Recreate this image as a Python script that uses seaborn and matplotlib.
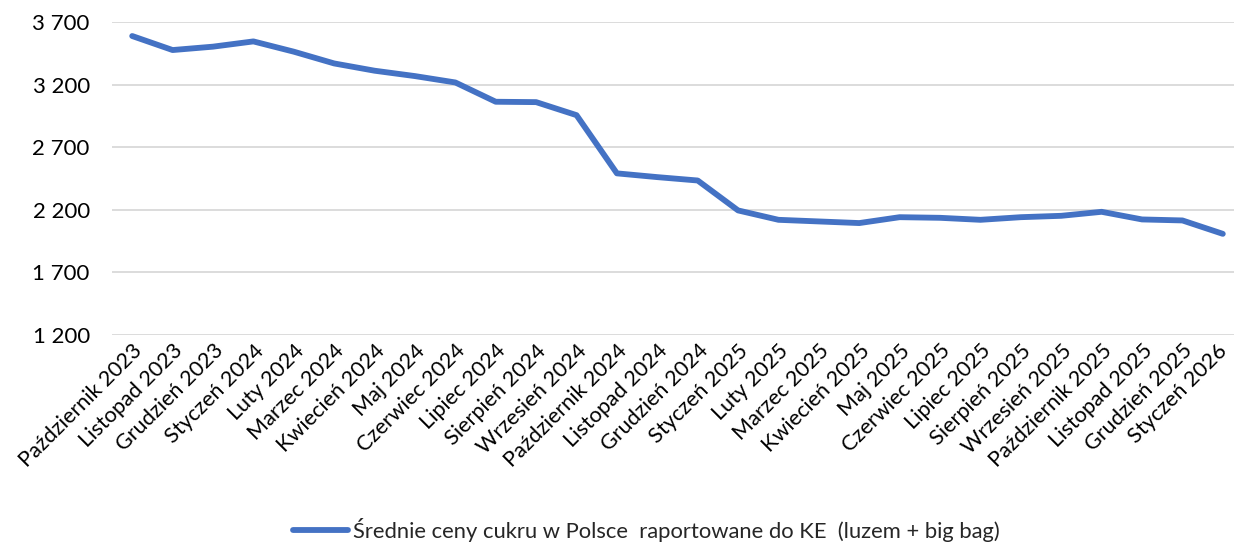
import matplotlib.pyplot as plt
import matplotlib.ticker as mticker
import matplotlib.transforms as mtransforms
import numpy as np
import pandas as pd
import seaborn as sns

months = [
    "Październik 2023", "Listopad 2023", "Grudzień 2023", "Styczeń 2024",
    "Luty 2024", "Marzec 2024", "Kwiecień 2024", "Maj 2024", "Czerwiec 2024",
    "Lipiec 2024", "Sierpień 2024", "Wrzesień 2024", "Październik 2024",
    "Listopad 2024", "Grudzień 2024", "Styczeń 2025", "Luty 2025",
    "Marzec 2025", "Kwiecień 2025", "Maj 2025", "Czerwiec 2025",
    "Lipiec 2025", "Sierpień 2025", "Wrzesień 2025", "Październik 2025",
    "Listopad 2025", "Grudzień 2025", "Styczeń 2026",
]
prices = [
    3588, 3476, 3503, 3545, 3463, 3369, 3311, 3268, 3217, 3063, 3060, 2956,
    2491, 2461, 2434, 2195, 2120, 2107, 2094, 2141, 2136, 2120, 2141, 2152,
    2184, 2123, 2115, 2008,
]
series_name = "Średnie ceny cukru w Polsce  raportowane do KE  (luzem + big bag)"

df = pd.DataFrame({"pos": np.arange(len(months)), "price": prices,
                   "series": series_name})

sns.set_theme(style="white")
plt.rcParams["font.family"] = ["Lato", "DejaVu Sans"]

fig = plt.figure(figsize=(12.34, 5.46), dpi=100)
ax = fig.add_axes([112 / 1234, 1 - 335 / 546, 1131 / 1234, 313 / 546])

sns.lineplot(data=df, x="pos", y="price", hue="series",
             palette=["#4472C4"], linewidth=4.2, ax=ax, legend=True)

ax.set_xlim(-0.5, len(months) - 0.5)
ax.set_ylim(1200, 3700)
ax.set_yticks(np.arange(1200, 3701, 500))
ax.yaxis.set_major_formatter(
    mticker.FuncFormatter(lambda v, _: f"{v:,.0f}".replace(",", " ")))
ax.yaxis.grid(True, color="#D9D9D9", linewidth=1.3)
ax.set_axisbelow(True)
for s in ax.spines.values():
    s.set_visible(False)

ax.set_xticks(np.arange(len(months)))
ax.set_xticklabels(months, rotation=45, ha="right", rotation_mode="anchor")
ax.tick_params(axis="x", length=0, pad=4, labelsize=15.6, colors="#000000")
ax.tick_params(axis="y", length=0, pad=16, labelsize=16, colors="#000000")
ax.set_xlabel("")
ax.set_ylabel("")

# last label sits right at the figure edge, nudge it in a touch
last = ax.get_xticklabels()[-1]
last.set_transform(last.get_transform() +
                   mtransforms.ScaledTranslation(-6 / 100, 0, fig.dpi_scale_trans))

handles, labels = ax.get_legend_handles_labels()
ax.legend(handles, labels, loc="lower center", bbox_to_anchor=(0.524, -0.028),
          bbox_transform=fig.transFigure, frameon=False, fontsize=15.8,
          handlelength=2.5, handletextpad=0.25)

fig.savefig("out.png", dpi=100)
